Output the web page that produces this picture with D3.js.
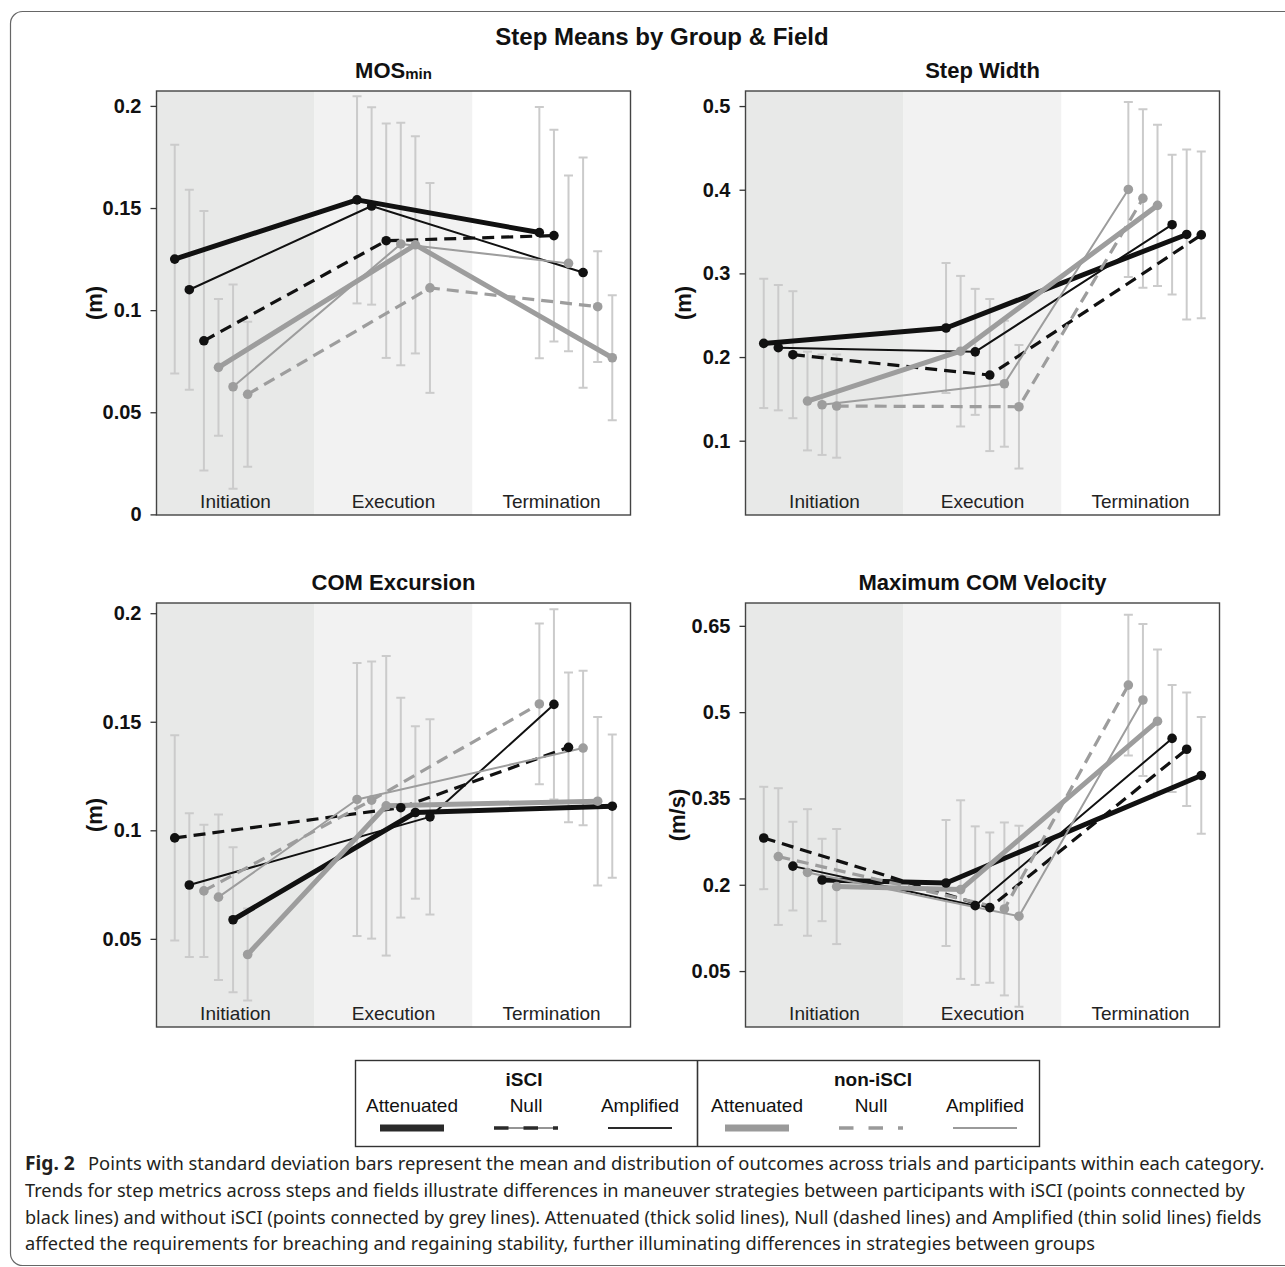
<!DOCTYPE html>
<html>
<head>
<meta charset="utf-8">
<script src="https://cdn.jsdelivr.net/npm/d3@7"></script>
<style>
  body { margin: 0; background: #fff; }
  svg { display: block; }
</style>
</head>
<body>
<div id="fig"></div>
<script>
// steps on the x axis
var steps = ["Initiation", "Execution", "Termination"];

// series: group x field
var seriesNames = ["iSCI Attenuated", "iSCI Null", "iSCI Amplified",
                   "non-iSCI Attenuated", "non-iSCI Null", "non-iSCI Amplified"];

// MOSmin (m), one row per series, values for Initiation / Execution / Termination
var mosMean = [
  [0.125, 0.154, 0.138],
  [0.085, 0.134, 0.1365],
  [0.110, 0.151, 0.1184],
  [0.072, 0.132, 0.0767],
  [0.0588, 0.1109, 0.1017],
  [0.0625, 0.1324, 0.1229]
];
var mosSD = [
  [0.056, 0.0507, 0.0615],
  [0.0635, 0.0574, 0.0518],
  [0.049, 0.0483, 0.0564],
  [0.0335, 0.0532, 0.0306],
  [0.0355, 0.0514, 0.0271],
  [0.050, 0.0594, 0.043]
];

// Step Width (m)
var widthMean = [
  [0.2163, 0.2347, 0.3465],
  [0.2028, 0.1785, 0.346],
  [0.2112, 0.2062, 0.3582],
  [0.1474, 0.207, 0.3813],
  [0.1414, 0.1406, 0.3896],
  [0.143, 0.1681, 0.4003]
];
var widthSD = [
  [0.0773, 0.0777, 0.1016],
  [0.0759, 0.0909, 0.0996],
  [0.0749, 0.0753, 0.0835],
  [0.059, 0.090, 0.0964],
  [0.0617, 0.0739, 0.1067],
  [0.06, 0.0753, 0.1046]
];

// COM Excursion (m)
var excMean = [
  [0.0588, 0.1082, 0.1111],
  [0.0965, 0.1104, 0.1382],
  [0.0748, 0.1062, 0.1580],
  [0.0428, 0.1113, 0.1134],
  [0.0721, 0.1139, 0.1582],
  [0.0692, 0.1142, 0.1379]
];
var excSD = [
  [0.0334, 0.0397, 0.033],
  [0.0473, 0.0506, 0.0345],
  [0.0331, 0.045, 0.0438],
  [0.0212, 0.069, 0.0388],
  [0.0305, 0.0638, 0.037],
  [0.0381, 0.0629, 0.0356]
];

// Maximum COM Velocity (m/s)
var velMean = [
  [0.2083, 0.2031, 0.39],
  [0.2813, 0.1603, 0.4355],
  [0.2324, 0.1637, 0.4544],
  [0.1969, 0.1916, 0.4843],
  [0.249, 0.158, 0.547],
  [0.2214, 0.1454, 0.5211]
];
var velSD = [
  [0.0716, 0.1095, 0.1015],
  [0.0889, 0.1306, 0.0986],
  [0.0771, 0.1378, 0.093],
  [0.10, 0.1552, 0.1245],
  [0.1188, 0.1503, 0.1222],
  [0.110, 0.1573, 0.1322]
];

// tick labels
var mosTicks = [0, 0.05, 0.1, 0.15, 0.2];
var widthTicks = [0.1, 0.2, 0.3, 0.4, 0.5];
var excTicks = [0.05, 0.1, 0.15, 0.2];
var velTicks = [0.05, 0.2, 0.35, 0.5, 0.65];

var legendGroups = ["iSCI", "non-iSCI"];
var legendFields = ["Attenuated", "Null", "Amplified"];

var captionLines = [
  "Points with standard deviation bars represent the mean and distribution of outcomes across trials and participants within each category.",
  "Trends for step metrics across steps and fields illustrate differences in maneuver strategies between participants with iSCI (points connected by",
  "black lines) and without iSCI (points connected by grey lines). Attenuated (thick solid lines), Null (dashed lines) and Amplified (thin solid lines) fields",
  "affected the requirements for breaching and regaining stability, further illuminating differences in strategies between groups"
];

// ---- styles ----
var BLACK = "#111111", GREY = "#9d9d9d";
var seriesStyle = [
  {color: BLACK, width: 5,   dash: null},
  {color: BLACK, width: 3.2, dash: "12,7"},
  {color: BLACK, width: 2,   dash: null},
  {color: GREY,  width: 5,   dash: null},
  {color: GREY,  width: 3.2, dash: "12,7"},
  {color: GREY,  width: 2,   dash: null}
];
var bandFill = ["#e8e9e8", "#f2f2f2", "#ffffff"];
var FONT = "'Liberation Sans', Arial, sans-serif";

var W = 474, H = 424;

var svg = d3.select("#fig").append("svg")
  .attr("width", 1285).attr("height", 1267)
  .style("font-family", FONT);

// outer frame (runs off the right edge)
svg.append("rect")
  .attr("x", 10.5).attr("y", 11.5)
  .attr("width", 1400).attr("height", 1254)
  .attr("rx", 12).attr("ry", 12)
  .attr("fill", "none").attr("stroke", "#666").attr("stroke-width", 1.2);

svg.append("text")
  .attr("x", 662).attr("y", 45)
  .attr("text-anchor", "middle")
  .style("font-size", "24px").style("font-weight", "bold")
  .attr("fill", "#111")
  .text("Step Means by Group & Field");

var panels = [
  {title: "MOS", sub: "min", unit: "(m)", mean: mosMean, sd: mosSD, ticks: mosTicks,
   domain: [-0.0003, 0.2073], left: 156.5, top: 91, labelX: -55},
  {title: "Step Width", unit: "(m)", mean: widthMean, sd: widthSD, ticks: widthTicks,
   domain: [0.0112, 0.518], left: 745.5, top: 91, labelX: -55},
  {title: "COM Excursion", unit: "(m)", mean: excMean, sd: excSD, ticks: excTicks,
   domain: [0.0094, 0.2047], left: 156.5, top: 603, labelX: -55},
  {title: "Maximum COM Velocity", unit: "(m/s)", mean: velMean, sd: velSD, ticks: velTicks,
   domain: [-0.0472, 0.6897], left: 745.5, top: 603, labelX: -61}
];

panels.forEach(function(p, pi) { drawPanel(p, pi); });

function drawPanel(p, pi) {
  var g = svg.append("g")
    .attr("transform", "translate(" + p.left + "," + p.top + ")");

  var x = d3.scaleLinear().domain([0.7, 3.3]).range([0, W]);
  var band = d3.scaleBand().domain(steps).range([0, W]);
  var y = d3.scaleLinear().domain(p.domain).range([H, 0]);

  // shaded step regions
  g.selectAll("rect.band")
    .data(steps)
    .enter().append("rect")
      .attr("class", "band")
      .attr("x", function(d) { return band(d); })
      .attr("y", 0)
      .attr("width", band.bandwidth())
      .attr("height", H)
      .attr("fill", function(d, i) { return bandFill[i]; });

  var clipId = "clip" + pi;
  g.append("clipPath").attr("id", clipId)
    .append("rect").attr("width", W).attr("height", H);

  // dodge: within each step the series are spread by descending mean
  var pts = [];
  steps.forEach(function(s, j) {
    var order = d3.range(seriesNames.length)
      .sort(function(a, b) { return p.mean[b][j] - p.mean[a][j]; });
    order.forEach(function(si, rank) {
      pts.push({
        s: si, step: j,
        pos: j + 1 + (rank - 2.5) * 0.08,
        mean: p.mean[si][j], sd: p.sd[si][j]
      });
    });
  });

  var plot = g.append("g").attr("clip-path", "url(#" + clipId + ")");

  // error bars
  var eb = plot.append("g")
    .attr("stroke", "#cbcbcb").attr("stroke-width", 2).attr("fill", "none");
  pts.forEach(function(d) {
    var cx = x(d.pos), y1 = y(d.mean + d.sd), y2 = y(d.mean - d.sd);
    eb.append("line").attr("x1", cx).attr("x2", cx).attr("y1", y1).attr("y2", y2);
    eb.append("line").attr("x1", cx - 4.5).attr("x2", cx + 4.5).attr("y1", y1).attr("y2", y1);
    eb.append("line").attr("x1", cx - 4.5).attr("x2", cx + 4.5).attr("y1", y2).attr("y2", y2);
  });

  // trend lines
  var line = d3.line()
    .x(function(d) { return x(d.pos); })
    .y(function(d) { return y(d.mean); });

  seriesNames.forEach(function(name, si) {
    var sp = pts.filter(function(d) { return d.s === si; })
      .sort(function(a, b) { return a.step - b.step; });
    var st = seriesStyle[si];
    plot.append("path")
      .datum(sp)
      .attr("d", line)
      .attr("fill", "none")
      .attr("stroke", st.color)
      .attr("stroke-width", st.width)
      .attr("stroke-dasharray", st.dash)
      .attr("stroke-linejoin", "round");
  });

  plot.selectAll("circle")
    .data(pts)
    .enter().append("circle")
      .attr("cx", function(d) { return x(d.pos); })
      .attr("cy", function(d) { return y(d.mean); })
      .attr("r", 4.8)
      .attr("fill", function(d) { return seriesStyle[d.s].color; });

  // step labels inside the panel
  g.selectAll("text.step")
    .data(steps)
    .enter().append("text")
      .attr("class", "step")
      .attr("x", function(d) { return band(d) + band.bandwidth() / 2; })
      .attr("y", H - 7)
      .attr("text-anchor", "middle")
      .attr("fill", "#222")
      .style("font-size", "19px")
      .text(function(d) { return d; });

  g.append("rect")
    .attr("width", W).attr("height", H)
    .attr("fill", "none").attr("stroke", "#444").attr("stroke-width", 1.4);

  // y axis
  var ax = g.append("g")
    .call(d3.axisLeft(y).tickValues(p.ticks).tickSize(6).tickPadding(9)
      .tickFormat(function(d) { return String(d); }));
  ax.select(".domain").remove();
  ax.selectAll(".tick line").attr("stroke", "#333").attr("stroke-width", 1.3);
  ax.selectAll(".tick text")
    .attr("fill", "#111")
    .style("font-size", "20px").style("font-weight", "bold")
    .style("font-family", FONT);

  g.append("text")
    .attr("transform", "translate(" + p.labelX + "," + (H / 2) + ") rotate(-90)")
    .attr("text-anchor", "middle")
    .attr("fill", "#111")
    .style("font-size", "22px").style("font-weight", "bold")
    .text(p.unit);

  var t = g.append("text")
    .attr("x", W / 2).attr("y", -13)
    .attr("text-anchor", "middle")
    .attr("fill", "#111")
    .style("font-size", "22px").style("font-weight", "bold")
    .text(p.title);
  if (p.sub) {
    t.append("tspan").style("font-size", "15px").attr("dy", 1).text(p.sub);
  }
}

// ---- legend ----
var lg = svg.append("g").attr("transform", "translate(355,1060)");
lg.append("rect").attr("x", 0.5).attr("y", 0.5).attr("width", 684).attr("height", 86)
  .attr("fill", "none").attr("stroke", "#333").attr("stroke-width", 1.4);
lg.append("line").attr("x1", 342.5).attr("x2", 342.5).attr("y1", 0).attr("y2", 87)
  .attr("stroke", "#333").attr("stroke-width", 1.6);

var legendX = d3.scaleBand().domain(legendFields).range([0, 342]);
legendGroups.forEach(function(grp, gi) {
  var gx = gi * 342;
  lg.append("text")
    .attr("x", gx + 171 + (gi ? 5 : -2)).attr("y", 26)
    .attr("text-anchor", "middle")
    .attr("fill", "#111")
    .style("font-size", "19px").style("font-weight", "bold")
    .text(grp);
  legendFields.forEach(function(f, fi) {
    var cx = gx + legendX(f) + legendX.bandwidth() / 2 + (gi ? 3 : 0);
    lg.append("text")
      .attr("x", cx).attr("y", 52)
      .attr("text-anchor", "middle")
      .attr("fill", "#111")
      .style("font-size", "19px")
      .text(f);
    if (f === "Null" && gi === 0) {
      lg.append("line").attr("x1", cx - 32).attr("x2", cx + 32).attr("y1", 68).attr("y2", 68)
        .attr("stroke", "#2a2a2a").attr("stroke-width", 1);
    }
    lg.append("line")
      .attr("x1", cx - 32).attr("x2", cx + 32)
      .attr("y1", 68).attr("y2", 68)
      .attr("stroke", gi ? "#9a9a9a" : "#2a2a2a")
      .attr("stroke-width", f === "Attenuated" ? 7 : (f === "Null" ? 3.5 : 2.2))
      .attr("stroke-dasharray", f === "Null" ? "14.5,15" : null);
  });
});

// ---- caption: lines 1-3 are justified to the frame, the last line is not ----
var cap = svg.append("g").attr("fill", "#231f20")
  .style("font-family", "'Noto Sans', 'Open Sans', sans-serif")
  .style("font-size", "18px");
var capEnds = [1265, 1246, 1262];
var capY = [1170, 1197, 1224, 1250];

var scales = [];
captionLines.forEach(function(l, i) {
  var x0 = i === 0 ? 88 : 25;
  var t = cap.append("text")
    .attr("x", 0).attr("y", 0)
    .text(l);
  var natural = t.node().getComputedTextLength();
  var k;
  if (i < 3) {
    k = (capEnds[i] - x0) / natural;
    scales.push(k);
  } else {
    k = d3.mean(scales);
  }
  t.attr("transform", "translate(" + x0 + "," + capY[i] + ") scale(" + k + ",1)");
});

cap.append("text")
  .attr("transform", "translate(25," + capY[0] + ") scale(" + d3.mean(scales) + ",1)")
  .style("font-weight", "bold").style("font-size", "19px")
  .text("Fig. 2");
</script>
</body>
</html>
